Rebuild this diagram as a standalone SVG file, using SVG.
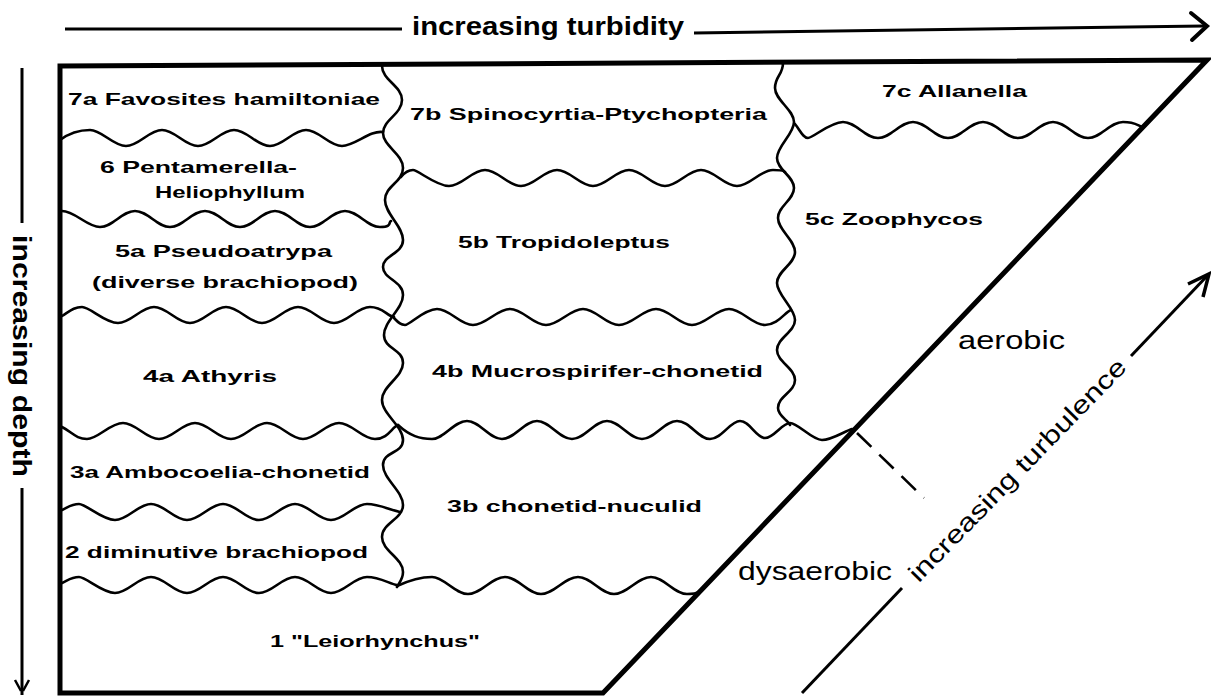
<svg xmlns="http://www.w3.org/2000/svg" width="1211" height="698" viewBox="0 0 1211 698">
<style>
.frame{fill:none;stroke:#000;stroke-width:5;stroke-linejoin:miter}
.wave{fill:none;stroke:#000;stroke-width:2.6;stroke-linecap:round;stroke-linejoin:round}
.axis{fill:none;stroke:#000;stroke-width:3;stroke-linecap:butt}
.head{fill:none;stroke:#000;stroke-width:4;stroke-linejoin:miter;stroke-linecap:round}
.lbl{font-family:"Liberation Sans",Arial,Helvetica,sans-serif;font-weight:bold;font-size:17px;fill:#000}
.big{font-family:"Liberation Sans",Arial,Helvetica,sans-serif;font-size:25px;fill:#000}
.axt{font-family:"Liberation Sans",Arial,Helvetica,sans-serif;font-weight:bold;font-size:25px;fill:#000}
</style>
<rect width="1211" height="698" fill="#fff"/>

<g id="frame">
<path class="frame" d="M60,66 L1207,60 L603,693 L60,693 Z"/>
</g>

<g id="boundaries">
<path class="wave" d="M382,66 C382,80 402,86 402,100 S383,120 383,133 S403,154 403,168 S385,186 385,200 S403,226 403,240 S383,255 383,267 S403,281 403,295 S384,321 384,335 S403,349 403,363 S382,386 382,400 S403,426 403,440 S383,451 383,465 S403,491 403,505 S382,523 382,537 S403,558 403,572 C403,580 398,584 397,587"/>
<path class="wave" d="M783,63 C783,75 775,76 775,88 S794,110 794,122 S777,146 777,158 S794,176 794,188 S778,206 778,218 S795,240 795,252 S777,271 777,283 S795,308 795,320 S777,338 777,350 S795,368 795,380 S778,396 778,408 C778,416 788,420 790,425"/>
<path class="wave" d="M60,140 C68,134 78,130 90,130 S113,146 126,146 S149,130 162,130 S185,146 198,146 S221,130 234,130 S257,146 270,146 S293,130 306,130 S329,146 342,146 S370,130 383,132"/>
<path class="wave" d="M62,211 C75,211 87,227 100,227 S122,211 135,211 S157,227 170,227 S192,211 205,211 S227,227 240,227 S262,211 275,211 S297,227 310,227 S332,211 345,211 S367,227 380,227 S388,222 391,221"/>
<path class="wave" d="M62,316 C70,311 74,307 82,307 S105,323 118,323 S141,307 154,307 S177,323 190,323 S213,307 226,307 S249,323 262,323 S285,307 298,307 S321,323 334,323 S357,307 370,307 S387,316 394,317"/>
<path class="wave" d="M62,427 C72,432 76,439 87,439 S110,423 123,423 S146,439 159,439 S182,423 195,423 S218,439 231,439 S254,423 267,423 S290,439 303,439 S326,423 339,423 S362,439 375,439 S392,427 398,425"/>
<path class="wave" d="M62,510 C70,506 72,504 79,504 S102,520 115,520 S138,504 151,504 S174,520 187,520 S210,504 223,504 S246,520 259,520 S282,504 295,504 S318,520 331,520 S354,504 367,504 S392,511 401,512"/>
<path class="wave" d="M62,583 C70,579 72,577 79,577 S102,593 115,593 S138,577 151,577 S174,593 187,593 S210,577 223,577 S246,593 259,593 S282,577 295,577 S318,593 331,593 S354,577 367,577 S390,584 397,585"/>
<path class="wave" d="M401,177 C405,172 408,170 413,170 S436,186 449,186 S472,170 485,170 S508,186 521,186 S544,170 557,170 S580,186 593,186 S616,170 629,170 S652,186 665,186 S688,170 701,170 S724,186 737,186 S760,170 773,170 S782,171 785,172"/>
<path class="wave" d="M394,318 C398,322 400,325 405,325 S424,309 437,309 S460,325 473,325 S497,309 510,309 S533,325 546,325 S570,309 583,309 S606,325 619,325 S643,309 656,309 S679,325 692,325 S716,309 729,309 S752,325 765,325 S785,312 791,310"/>
<path class="wave" d="M398,425 C410,436 420,439 432,439 S454,421 467,421 S489,439 502,439 S524,421 537,421 S559,439 572,439 S594,421 607,421 S629,439 642,439 S664,421 677,421 S698,439 710,439 S730,421 740,421 S756,438 765,438 S782,423 790,423 S812,440 822,440 S845,431 852,429"/>
<path class="wave" d="M397,586 C410,580 420,577 432,577 S455,594 468,594 S492,577 505,577 S528,594 541,594 S565,577 578,577 S601,594 614,594 S638,577 651,577 S674,594 687,594 S697,592 701,590"/>
<path class="wave" d="M795,124 C800,130 803,138 808,138 S830,122 843,122 S865,138 878,138 S900,122 913,122 S935,138 948,138 S970,122 983,122 S1005,138 1018,138 S1040,122 1053,122 S1075,138 1088,138 S1110,122 1123,122 S1138,126 1143,127"/>
<line x1="857" y1="433" x2="924" y2="498" stroke="#000" stroke-width="2.6" stroke-dasharray="20 11"/>
</g>

<g id="connectors">
<g id="turbidity-axis">
<line class="axis" x1="65" y1="29" x2="402" y2="29"/>
<line class="axis" x1="694" y1="33" x2="1204" y2="26"/>
<path class="head" d="M1191,13 L1207,26 L1192,40"/>
</g>
<g id="depth-axis">
<line class="axis" x1="22" y1="68" x2="22" y2="223"/>
<line class="axis" x1="22" y1="488" x2="22" y2="695"/>
<path d="M15,680 L21,691 M29,680 L23,691" fill="none" stroke="#000" stroke-width="2.5"/>
</g>
<g id="turbulence-axis">
<line class="axis" x1="802" y1="693" x2="902" y2="588"/>
<line class="axis" x1="1131" y1="356" x2="1208" y2="275"/>
<path d="M1188,284 L1209,274 L1203,297" fill="none" stroke="#000" stroke-width="3.5" stroke-linejoin="miter"/>
</g>
</g>

<g id="axis-labels">
<text class="axt" x="412" y="35" textLength="272" lengthAdjust="spacingAndGlyphs">increasing turbidity</text>
<text class="axt" transform="translate(13,235) rotate(90)" x="0" y="0" textLength="242" lengthAdjust="spacingAndGlyphs">increasing depth</text>
<text class="big" transform="translate(913,578) rotate(-45.8)" x="0" y="8" textLength="300" lengthAdjust="spacingAndGlyphs">increasing turbulence</text>
</g>

<g id="n7a"><text class="lbl" x="68" y="105" textLength="312" lengthAdjust="spacingAndGlyphs">7a Favosites hamiltoniae</text></g>
<g id="n6"><text class="lbl" x="100" y="173" textLength="197" lengthAdjust="spacingAndGlyphs">6 Pentamerella-</text><text class="lbl" x="155" y="198" textLength="150" lengthAdjust="spacingAndGlyphs">Heliophyllum</text></g>
<g id="n5a"><text class="lbl" x="115" y="257" textLength="217" lengthAdjust="spacingAndGlyphs">5a Pseudoatrypa</text><text class="lbl" x="92" y="288" textLength="266" lengthAdjust="spacingAndGlyphs">(diverse brachiopod)</text></g>
<g id="n4a"><text class="lbl" x="143" y="382" textLength="134" lengthAdjust="spacingAndGlyphs">4a Athyris</text></g>
<g id="n3a"><text class="lbl" x="70" y="478" textLength="300" lengthAdjust="spacingAndGlyphs">3a Ambocoelia-chonetid</text></g>
<g id="n2"><text class="lbl" x="65" y="558" textLength="303" lengthAdjust="spacingAndGlyphs">2 diminutive brachiopod</text></g>
<g id="n1"><text class="lbl" x="270" y="647" textLength="210" lengthAdjust="spacingAndGlyphs">1 "Leiorhynchus"</text></g>
<g id="n7b"><text class="lbl" x="410" y="120" textLength="357" lengthAdjust="spacingAndGlyphs">7b Spinocyrtia-Ptychopteria</text></g>
<g id="n5b"><text class="lbl" x="458" y="248" textLength="212" lengthAdjust="spacingAndGlyphs">5b Tropidoleptus</text></g>
<g id="n4b"><text class="lbl" x="432" y="377" textLength="331" lengthAdjust="spacingAndGlyphs">4b Mucrospirifer-chonetid</text></g>
<g id="n3b"><text class="lbl" x="447" y="512" textLength="255" lengthAdjust="spacingAndGlyphs">3b chonetid-nuculid</text></g>
<g id="n7c"><text class="lbl" x="882" y="97" textLength="145" lengthAdjust="spacingAndGlyphs">7c Allanella</text></g>
<g id="n5c"><text class="lbl" x="805" y="225" textLength="178" lengthAdjust="spacingAndGlyphs">5c Zoophycos</text></g>
<g id="aerobic"><text class="big" x="958" y="349" textLength="107" lengthAdjust="spacingAndGlyphs">aerobic</text></g>
<g id="dysaerobic"><text class="big" x="738" y="580" textLength="154" lengthAdjust="spacingAndGlyphs">dysaerobic</text></g>
</svg>
